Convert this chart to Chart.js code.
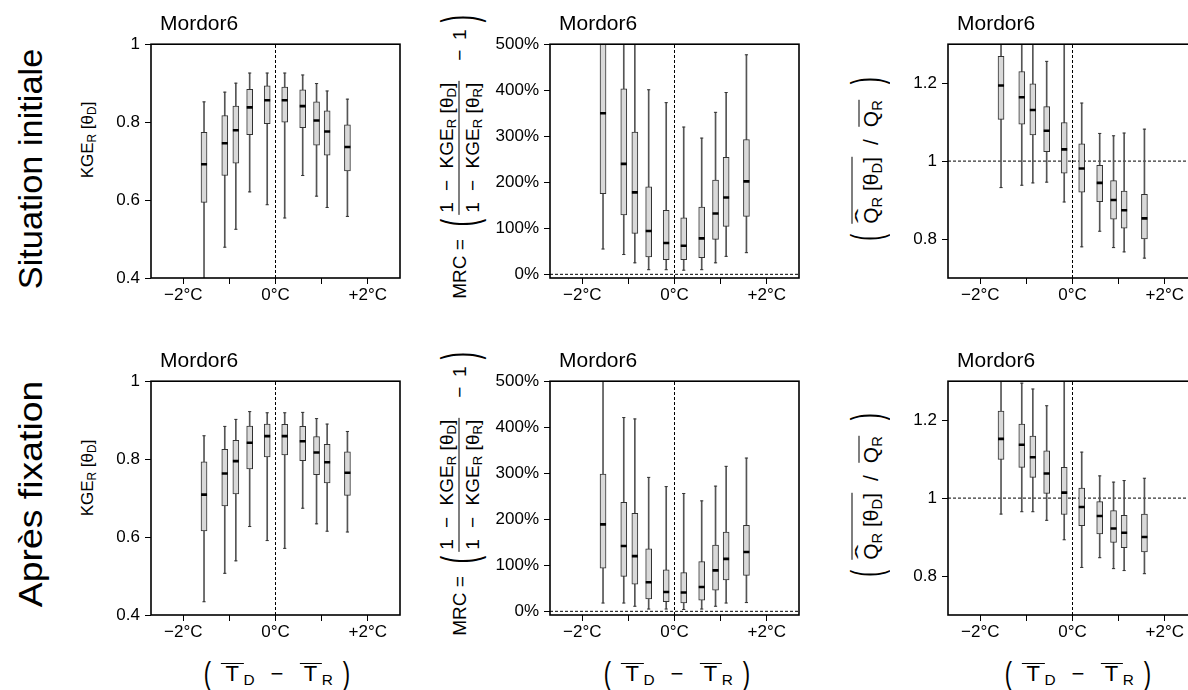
<!DOCTYPE html>
<html>
<head>
<meta charset="utf-8">
<script src="https://cdn.jsdelivr.net/npm/chart.js@4.4.1/dist/chart.umd.min.js"></script>
<style>
  html,body{margin:0;padding:0;background:#fff;}
  body{width:1188px;height:690px;overflow:hidden;position:relative;font-family:'Liberation Sans',Arial,Helvetica,sans-serif;color:#000;}
  canvas{position:absolute;}
  .t{position:absolute;white-space:nowrap;line-height:1;color:#000;}
  .rot{transform:translate(-50%,-50%) rotate(-90deg);}
  .ctr{transform:translate(-50%,-50%);}
  sub{font-size:0.7em;vertical-align:-0.28em;line-height:0;}
  .flex{display:flex;align-items:center;}
  .bp{display:inline-block;line-height:1;}
  .ol{display:inline-block;border-top:1.4px solid #000;line-height:0.95;}
  .frac{display:inline-flex;flex-direction:column;align-items:center;}
  .bar{align-self:stretch;border-top:1.3px solid #000;height:0;}
  .hq{position:relative;display:inline-block;}
  .hat{position:absolute;left:0;right:0;text-align:center;top:-0.36em;transform:scaleX(2.1);}
</style>
</head>
<body>

<!-- row labels -->
<div class="t" style="left:30px;top:169px;font-size:34px;transform:translate(-50%,-50%) rotate(-90deg) scaleX(1.01);">Situation initiale</div>
<div class="t" style="left:30px;top:494px;font-size:34px;transform:translate(-50%,-50%) rotate(-90deg) scaleX(1.1);">Après fixation</div>

<!-- KGE y titles -->
<div class="t rot" style="left:87px;top:140px;font-size:17px;">KGE<sub>R</sub> [θ<sub>D</sub>]</div>
<div class="t rot" style="left:87px;top:478px;font-size:17px;">KGE<sub>R</sub> [θ<sub>D</sub>]</div>

<!-- MRC y titles -->
<div class="t rot flex" style="left:459px;top:157px;font-size:19px;">
  <span>MRC =</span>
  <span class="bp" style="font-size:22px;transform:scaleY(2.3);margin:0 4px 0 13px;">(</span>
  <span class="frac">
    <span style="padding:0 2px 3px;">1<span style="margin:0 0.6em;">−</span>KGE<sub>R</sub> [θ<sub>D</sub>]</span>
    <span class="bar"></span>
    <span style="padding:3px 2px 0;">1<span style="margin:0 0.6em;">−</span>KGE<sub>R</sub> [θ<sub>R</sub>]</span>
  </span>
  <span style="margin-left:20px;">−&ensp;1</span>
  <span class="bp" style="font-size:22px;transform:scaleY(2.3);margin-left:7px;">)</span>
</div>
<div class="t rot flex" style="left:459px;top:494px;font-size:19px;">
  <span>MRC =</span>
  <span class="bp" style="font-size:22px;transform:scaleY(2.3);margin:0 4px 0 13px;">(</span>
  <span class="frac">
    <span style="padding:0 2px 3px;">1<span style="margin:0 0.6em;">−</span>KGE<sub>R</sub> [θ<sub>D</sub>]</span>
    <span class="bar"></span>
    <span style="padding:3px 2px 0;">1<span style="margin:0 0.6em;">−</span>KGE<sub>R</sub> [θ<sub>R</sub>]</span>
  </span>
  <span style="margin-left:20px;">−&ensp;1</span>
  <span class="bp" style="font-size:22px;transform:scaleY(2.3);margin-left:7px;">)</span>
</div>

<!-- Q ratio y titles -->
<div class="t rot flex" style="left:866px;top:159px;font-size:21px;">
  <span class="bp" style="transform:scaleY(2.05);margin-right:10px;">(</span>
  <span><span class="ol" style="padding-top:8px;"><span class="hq">Q<span class="hat">ˆ</span></span><sub>R</sub> [θ<sub>D</sub>]</span><span style="margin:0 12px;">/</span><span class="ol" style="padding-top:1px;">Q<sub>R</sub></span></span>
  <span class="bp" style="transform:scaleY(2.05);margin-left:16px;">)</span>
</div>
<div class="t rot flex" style="left:866px;top:495px;font-size:21px;">
  <span class="bp" style="transform:scaleY(2.05);margin-right:10px;">(</span>
  <span><span class="ol" style="padding-top:8px;"><span class="hq">Q<span class="hat">ˆ</span></span><sub>R</sub> [θ<sub>D</sub>]</span><span style="margin:0 12px;">/</span><span class="ol" style="padding-top:1px;">Q<sub>R</sub></span></span>
  <span class="bp" style="transform:scaleY(2.05);margin-left:16px;">)</span>
</div>

<!-- x titles -->
<div class="t ctr flex" style="left:277px;top:674px;font-size:22px;">
  <span class="bp" style="transform:scaleY(1.45);margin-right:10px;">(</span>
  <span><span class="ol">&thinsp;T&thinsp;</span><sub>D</sub><span style="margin:0 16px;">−</span><span class="ol">&thinsp;T&thinsp;</span><sub>R</sub></span>
  <span class="bp" style="transform:scaleY(1.45);margin-left:10px;">)</span>
</div>
<div class="t ctr flex" style="left:677px;top:674px;font-size:22px;">
  <span class="bp" style="transform:scaleY(1.45);margin-right:10px;">(</span>
  <span><span class="ol">&thinsp;T&thinsp;</span><sub>D</sub><span style="margin:0 16px;">−</span><span class="ol">&thinsp;T&thinsp;</span><sub>R</sub></span>
  <span class="bp" style="transform:scaleY(1.45);margin-left:10px;">)</span>
</div>
<div class="t ctr flex" style="left:1078px;top:674px;font-size:22px;">
  <span class="bp" style="transform:scaleY(1.45);margin-right:10px;">(</span>
  <span><span class="ol">&thinsp;T&thinsp;</span><sub>D</sub><span style="margin:0 16px;">−</span><span class="ol">&thinsp;T&thinsp;</span><sub>R</sub></span>
  <span class="bp" style="transform:scaleY(1.45);margin-left:10px;">)</span>
</div>

<script>
// ---------------- DATA ----------------
const xTickValues = [-2, -1, 0, 1, 2];
const xTickLabels = ['−2°C', '', '0°C', '', '+2°C'];
const panelTitle = 'Mordor6';
// mean temperature difference of each box (°C)
const tempShift = [-1.55, -1.1, -0.86, -0.56, -0.18, 0.2, 0.59, 0.89, 1.12, 1.56];

// KGE_R[θD] — situation initiale
const kgeInitLow = [0.37, 0.479, 0.525, 0.621, 0.588, 0.554, 0.663, 0.610, 0.581, 0.558];
const kgeInitQ1  = [0.594, 0.663, 0.695, 0.768, 0.796, 0.800, 0.786, 0.741, 0.715, 0.675];
const kgeInitMed = [0.692, 0.746, 0.779, 0.838, 0.856, 0.856, 0.841, 0.804, 0.776, 0.736];
const kgeInitQ3  = [0.774, 0.817, 0.841, 0.884, 0.893, 0.890, 0.883, 0.852, 0.829, 0.793];
const kgeInitHigh= [0.852, 0.877, 0.900, 0.926, 0.926, 0.926, 0.921, 0.899, 0.880, 0.859];

// KGE_R[θD] — après fixation
const kgeFixLow = [0.434, 0.507, 0.539, 0.627, 0.591, 0.571, 0.674, 0.634, 0.615, 0.613];
const kgeFixQ1  = [0.616, 0.680, 0.711, 0.775, 0.806, 0.811, 0.796, 0.760, 0.739, 0.707];
const kgeFixMed = [0.709, 0.763, 0.795, 0.842, 0.859, 0.859, 0.846, 0.817, 0.792, 0.765];
const kgeFixQ3  = [0.793, 0.825, 0.848, 0.885, 0.890, 0.889, 0.884, 0.858, 0.838, 0.819];
const kgeFixHigh= [0.860, 0.884, 0.902, 0.922, 0.919, 0.919, 0.920, 0.904, 0.890, 0.871];

// MRC (%) — situation initiale
const mrcInitLow = [55, 43, 25, 10, 10, 9, 10, 25, 39, 47];
const mrcInitQ1  = [175, 129, 89, 38, 32, 32, 36, 76, 104, 126];
const mrcInitMed = [350, 240, 178, 94, 68, 62, 78, 132, 167, 202];
const mrcInitQ3  = [530, 403, 309, 190, 139, 123, 146, 205, 254, 293];
const mrcInitHigh= [700, 560, 540, 401, 373, 320, 296, 352, 395, 477];

// MRC (%) — après fixation
const mrcFixLow = [18, 18, 11, 5, 5, 4, 5, 11, 18, 19];
const mrcFixQ1  = [94, 76, 59, 27, 21, 18, 24, 46, 68, 78];
const mrcFixMed = [189, 142, 120, 63, 42, 41, 53, 89, 114, 129];
const mrcFixQ3  = [298, 237, 213, 136, 90, 84, 108, 144, 172, 187];
const mrcFixHigh= [560, 421, 418, 291, 271, 256, 240, 272, 315, 333];

// mean flow ratio — situation initiale
const qInitLow = [0.932, 0.938, 0.944, 0.946, 0.895, 0.780, 0.820, 0.778, 0.767, 0.751];
const qInitQ1  = [1.107, 1.095, 1.067, 1.024, 0.969, 0.920, 0.896, 0.851, 0.828, 0.800];
const qInitMed = [1.194, 1.164, 1.131, 1.078, 1.030, 0.981, 0.944, 0.900, 0.874, 0.853];
const qInitQ3  = [1.269, 1.230, 1.198, 1.140, 1.099, 1.044, 0.989, 0.950, 0.923, 0.915];
const qInitHigh= [1.40, 1.38, 1.36, 1.256, 1.33, 1.149, 1.071, 1.065, 1.072, 1.082];

// mean flow ratio — après fixation
const qFixLow = [0.959, 0.965, 0.965, 0.943, 0.893, 0.822, 0.847, 0.819, 0.814, 0.806];
const qFixQ1  = [1.099, 1.079, 1.053, 1.012, 0.958, 0.929, 0.908, 0.886, 0.873, 0.862];
const qFixMed = [1.152, 1.137, 1.105, 1.063, 1.014, 0.977, 0.954, 0.922, 0.911, 0.900];
const qFixQ3  = [1.223, 1.190, 1.159, 1.121, 1.079, 1.026, 0.991, 0.968, 0.956, 0.959];
const qFixHigh= [1.36, 1.295, 1.280, 1.237, 1.34, 1.118, 1.057, 1.041, 1.045, 1.051];

const kgeTicks = [0.4, 0.6, 0.8, 1];
const mrcTicks = [0, 100, 200, 300, 400, 500];
const qTicks = [0.8, 1, 1.2];

// ---------------- LAYOUT ----------------
const colLeft = [151, 550, 948];
const rowTop = [41, 378];
const plotW = 249, plotH = 237;
const padL = 70, padT = 12, padR = 10, padB = 42;
const FONT = "'Liberation Sans', Arial, Helvetica, sans-serif";

const panels = [
  {col:0,row:0,yMin:0.4,yMax:1,ticks:kgeTicks,fmt:v=>String(v),ref:null,s:[kgeInitLow,kgeInitQ1,kgeInitMed,kgeInitQ3,kgeInitHigh]},
  {col:1,row:0,yMin:-8,yMax:500,ticks:mrcTicks,fmt:v=>v+'%',ref:0,s:[mrcInitLow,mrcInitQ1,mrcInitMed,mrcInitQ3,mrcInitHigh]},
  {col:2,row:0,yMin:0.7,yMax:1.3,ticks:qTicks,fmt:v=>String(v),ref:1,s:[qInitLow,qInitQ1,qInitMed,qInitQ3,qInitHigh]},
  {col:0,row:1,yMin:0.4,yMax:1,ticks:kgeTicks,fmt:v=>String(v),ref:null,s:[kgeFixLow,kgeFixQ1,kgeFixMed,kgeFixQ3,kgeFixHigh]},
  {col:1,row:1,yMin:-8,yMax:500,ticks:mrcTicks,fmt:v=>v+'%',ref:0,s:[mrcFixLow,mrcFixQ1,mrcFixMed,mrcFixQ3,mrcFixHigh]},
  {col:2,row:1,yMin:0.7,yMax:1.3,ticks:qTicks,fmt:v=>String(v),ref:1,s:[qFixLow,qFixQ1,qFixMed,qFixQ3,qFixHigh]}
];

const framePlugin = {
  id:'frame',
  afterDatasetsDraw(chart){
    const a = chart.chartArea, c = chart.ctx;
    c.save();
    c.strokeStyle = '#000';
    c.lineWidth = 1.6;
    c.strokeRect(a.left, a.top, a.right - a.left, a.bottom - a.top);
    c.restore();
  }
};

const X_MIN = -2.7, X_MAX = 2.7;

panels.forEach((p) => {
  const left = colLeft[p.col] - padL;
  const top = rowTop[p.row] - padT;
  const W = plotW + padL + padR, H = plotH + padT + padB;
  const cv = document.createElement('canvas');
  cv.width = W; cv.height = H;
  cv.style.left = left + 'px'; cv.style.top = top + 'px';
  cv.style.width = W + 'px'; cv.style.height = H + 'px';
  document.body.appendChild(cv);

  const tt = document.createElement('div');
  tt.className = 't';
  tt.style.fontSize = '21px';
  tt.style.left = (colLeft[p.col] + 9) + 'px';
  tt.style.top = (rowTop[p.row] - 11 - 17.8) + 'px';
  tt.textContent = panelTitle;
  document.body.appendChild(tt);

  const [lo, q1, med, q3, hi] = p.s;
  const datasets = [];
  datasets.push({type:'line', data:[{x:0,y:p.yMin},{x:0,y:p.yMax}], borderColor:'#000', borderWidth:1,
    borderDash:[3,2], pointRadius:0, order:20});
  if (p.ref !== null) {
    datasets.push({type:'line', data:[{x:X_MIN,y:p.ref},{x:X_MAX,y:p.ref}], borderColor:'#000', borderWidth:1,
      borderDash:[3,2], pointRadius:0, order:19});
  }
  datasets.push({type:'bar', data: tempShift.map((x,i)=>({x, y:[lo[i], hi[i]]})), barThickness:1,
    backgroundColor:'#555', borderWidth:0, grouped:false, order:10});
  datasets.push({type:'bar', data: tempShift.map((x,i)=>({x, y:[q1[i], q3[i]]})), barThickness:6,
    backgroundColor:'#d9d9d9', borderColor:'#333', borderWidth:1, borderSkipped:false, grouped:false, order:8});
  datasets.push({type:'line', showLine:false,
    data: tempShift.map((x,i)=>({x, y:lo[i]})).concat(tempShift.map((x,i)=>({x, y:hi[i]}))),
    pointStyle:'line', pointRadius:1.6, pointBorderWidth:1, pointBorderColor:'#333', borderColor:'#333', order:6});
  datasets.push({type:'line', showLine:false, data: tempShift.map((x,i)=>({x, y:med[i]})),
    pointStyle:'line', pointRadius:3, pointBorderWidth:2.6, pointBorderColor:'#000', borderColor:'#000', order:4});

  new Chart(cv, {
    type:'bar',
    data:{datasets},
    options:{
      responsive:false, animation:false, events:[], devicePixelRatio:1,
      layout:{padding:{left:0, top:padT, right:padR, bottom:0}},
      plugins:{legend:{display:false}, tooltip:{enabled:false}, title:{display:false}},
      scales:{
        x:{type:'linear', min:X_MIN, max:X_MAX, offset:false,
          grid:{offset:false, drawOnChartArea:false, drawTicks:true, tickLength:6, color:'#000', lineWidth:1},
          border:{display:false},
          ticks:{font:{family:FONT, size:17}, color:'#000', padding:1, maxRotation:0, autoSkip:false,
            callback:(v)=>{const i = xTickValues.indexOf(v); return i>=0 ? xTickLabels[i] : '';}},
          afterBuildTicks:(s)=>{s.ticks = xTickValues.map(v=>({value:v}));},
          afterFit:(s)=>{s.height = padB;}
        },
        y:{type:'linear', min:p.yMin, max:p.yMax, beginAtZero:false,
          grid:{drawOnChartArea:false, drawTicks:true, tickLength:6, color:'#000', lineWidth:1},
          border:{display:false},
          ticks:{font:{family:FONT, size:17}, color:'#000', padding:5, autoSkip:false, callback:(v)=>p.fmt(v)},
          afterBuildTicks:(s)=>{s.ticks = p.ticks.map(v=>({value:v}));},
          afterFit:(s)=>{s.width = padL;}
        }
      }
    },
    plugins:[framePlugin]
  });
});
</script>
</body>
</html>
